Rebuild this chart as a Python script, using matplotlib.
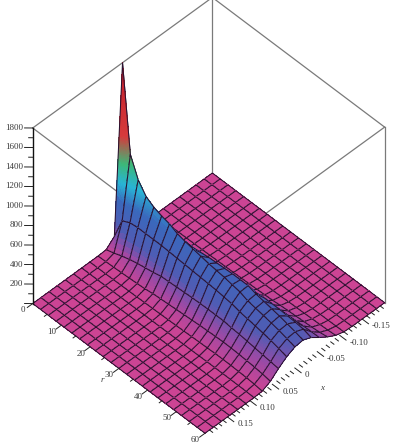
#import libraries
import numpy as np
import matplotlib
matplotlib.use('Agg')
import matplotlib.pyplot as plt
from matplotlib.colors import LinearSegmentedColormap, Normalize
from mpl_toolkits.mplot3d.art3d import Line3DCollection
from mpl_toolkits.mplot3d import proj3d

#grid of the surface
r_vals = [0, 2.727, 5.455, 8.182, 10.909, 13.636, 16.364, 19.091, 21.818, 24.545, 27.273,
          30, 32.727, 35.455, 38.182, 40.909, 43.636, 46.364, 49.091, 51.818, 54.545,
          57.273, 60]
x_vals = [-0.2, -0.1818, -0.1636, -0.1455, -0.1273, -0.1091, -0.0909, -0.0727, -0.0545,
          -0.0364, -0.0182, 0, 0.0182, 0.0364, 0.0545, 0.0727, 0.0909, 0.1091, 0.1273,
          0.1455, 0.1636, 0.1818, 0.2]

#heights, one row per r, columns x = -0.1091 ... 0.0909
#everything outside these columns lies on the floor
ridge = [
    [0, 0, 0, 0, 0, 30, 1800, 80, 5, 0, 0, 0],
    [0, 0, 0, 0, 10, 140, 920, 300, 30, 3, 0, 0],
    [0, 0, 0, 2, 25, 190, 720, 340, 60, 6, 0, 0],
    [0, 0, 0, 5, 40, 220, 610, 350, 85, 10, 1, 0],
    [0, 0, 1, 8, 55, 245, 560, 350, 105, 15, 2, 0],
    [0, 0, 2, 12, 70, 265, 530, 350, 120, 20, 3, 0],
    [0, 0, 3, 16, 85, 285, 510, 350, 135, 26, 4, 0],
    [0, 1, 5, 25, 115, 315, 470, 345, 155, 38, 6, 0],
    [0, 2, 7, 30, 130, 325, 450, 340, 160, 44, 8, 1],
    [0, 2, 9, 36, 145, 335, 435, 335, 165, 50, 10, 1],
    [0, 3, 11, 42, 160, 345, 420, 330, 170, 56, 12, 1],
    [0, 3, 13, 50, 175, 350, 405, 325, 175, 62, 14, 2],
    [1, 4, 16, 58, 190, 355, 395, 320, 178, 68, 17, 2],
    [1, 5, 19, 66, 205, 360, 385, 315, 180, 74, 20, 3],
    [1, 6, 23, 75, 215, 360, 370, 305, 180, 78, 23, 3],
    [1, 7, 27, 84, 225, 360, 355, 295, 180, 82, 25, 4],
    [2, 11, 35, 100, 235, 335, 325, 275, 170, 85, 28, 5],
    [2, 13, 40, 108, 235, 320, 310, 262, 165, 84, 29, 5],
    [2, 15, 45, 115, 235, 305, 295, 250, 155, 80, 28, 5],
    [3, 18, 50, 120, 230, 290, 280, 235, 145, 75, 25, 5],
    [3, 20, 55, 125, 225, 270, 262, 220, 135, 68, 22, 4],
    [4, 24, 62, 128, 215, 250, 240, 200, 125, 60, 16, 3],
    [5, 30, 75, 130, 190, 225, 215, 175, 115, 45, 5, 0],
]

#tick values
z_major = [200, 400, 600, 800, 1000, 1200, 1400, 1600, 1800]
z_minor = [100, 300, 500, 700, 900, 1100, 1300, 1500, 1700]
r_major = [0, 10, 20, 30, 40, 50, 60]
r_minor = [5, 15, 25, 35, 45, 55]
x_major = [-0.15, -0.10, -0.05, 0, 0.05, 0.10, 0.15]
x_minor = [-0.19, -0.18, -0.17, -0.16, -0.14, -0.13, -0.12, -0.11, -0.09, -0.08, -0.07,
           -0.06, -0.04, -0.03, -0.02, -0.01, 0.01, 0.02, 0.03, 0.04, 0.06, 0.07, 0.08,
           0.09, 0.11, 0.12, 0.13, 0.14, 0.16, 0.17, 0.18, 0.19]
x_labels = ['-0.15', '-0.10', '-0.05', '0', '0.05', '0.10', '0.15']

RMAX = 60
XMAX = 0.2
ZMAX = 1800

#colours by height
cmap = LinearSegmentedColormap.from_list('height', [
    (0.0, '#cc4494'), (0.06, '#9a4aa6'), (0.13, '#4f5cb4'), (0.26, '#3a68bc'),
    (0.36, '#28b4d6'), (0.47, '#3cb878'), (0.62, '#d63a3c'), (1.0, '#c41e2a')])
norm = Normalize(0, ZMAX)

fig = plt.figure(figsize=(3.96, 4.43), dpi=100)
ax = fig.add_axes([-0.1627, -0.1023, 1.343, 1.2], projection='3d')
ax.set_proj_type('ortho')
ax.view_init(elev=47.7, azim=-44.5)
ax.set_box_aspect((245, 251, 260), zoom=0.8)
ax.computed_zorder = False
ax.set_axis_off()

#surface cell by cell from the back corner to the front one, so the ridge hides
#the grid behind it; tall cells are split to get the colour gradient
Z = np.zeros((len(r_vals), len(x_vals)))
Z[:, 5:17] = np.array(ridge)
order = 3.0
for i in range(len(r_vals) - 1):
    for j in range(len(x_vals) - 1):
        r0, r1 = r_vals[i], r_vals[i + 1]
        x0, x1 = x_vals[j], x_vals[j + 1]
        z00, z01 = Z[i, j], Z[i, j + 1]
        z10, z11 = Z[i + 1, j], Z[i + 1, j + 1]
        top = max(z00, z01, z10, z11)
        n = 1 if top < 30 else (24 if top > 600 else 6)
        u = np.linspace(0, 1, n + 1)
        rr = r0 + (r1 - r0) * u
        xx = x0 + (x1 - x0) * u
        RR, XX = np.meshgrid(rr, xx, indexing='ij')
        U, V = np.meshgrid(u, u, indexing='ij')
        ZZ = z00 * (1 - U) * (1 - V) + z01 * (1 - U) * V + z10 * U * (1 - V) + z11 * U * V
        ax.plot_surface(RR, XX, ZZ, cmap=cmap, norm=norm, rstride=1, cstride=1,
                        linewidth=0, antialiased=False, zorder=order)
        order += 0.001
        corners = [(r0, x0, z00), (r0, x1, z01), (r1, x1, z11), (r1, x0, z10), (r0, x0, z00)]
        ax.add_collection3d(Line3DCollection([corners], colors='#2a1230', linewidths=0.75,
                                             zorder=order))
        order += 0.001

#box lines behind the surface
GREY = '#7a7a7a'
box_style = dict(color=GREY, lw=0.9, zorder=1)
ax.plot([0, 0], [-XMAX, XMAX], [ZMAX, ZMAX], **box_style)
ax.plot([0, RMAX], [XMAX, XMAX], [ZMAX, ZMAX], **box_style)
ax.plot([0, RMAX], [-XMAX, -XMAX], [ZMAX, ZMAX], **box_style)
ax.plot([RMAX, RMAX], [-XMAX, XMAX], [ZMAX, ZMAX], **box_style)
ax.plot([0, 0], [-XMAX, -XMAX], [0, ZMAX], **box_style)
ax.plot([RMAX, RMAX], [-XMAX, -XMAX], [0, ZMAX], **box_style)

#z axis with ticks to the left
tick_style = dict(color='#222222', lw=0.7, zorder=4)
ax.plot([0, 0], [XMAX, XMAX], [0, ZMAX], color='#111111', lw=1.0, zorder=4)
for z in z_major + [0]:
    ax.plot([0, -1.4], [XMAX, XMAX + 0.0091], [z, z], **tick_style)
for z in z_minor:
    ax.plot([0, -0.7], [XMAX, XMAX + 0.0045], [z, z], **tick_style)

#r axis ticks
for r in r_major:
    ax.plot([r, r], [XMAX, XMAX + 0.012], [0, 0], **tick_style)
for r in r_minor:
    ax.plot([r, r], [XMAX, XMAX + 0.006], [0, 0], **tick_style)

#x axis ticks
for x in x_major:
    ax.plot([RMAX, RMAX + 2.2], [x, x], [0, 0], **tick_style)
for x in x_minor:
    ax.plot([RMAX, RMAX + 1.1], [x, x], [0, 0], **tick_style)

ax.set_xlim(0, RMAX, view_margin=0)
ax.set_ylim(XMAX, -XMAX, view_margin=0)
ax.set_zlim(0, ZMAX, view_margin=0)

#labels, placed in the projection plane so they behave as plain 2d text
font = dict(family='Liberation Serif', size=6.5, color='#3a3a3a', zorder=5000)
proj = ax.get_proj()
def label(r, x, z, s, ha='center', **kw):
    px, py, _ = proj3d.proj_transform(r, x, z, proj)
    ax.text2D(px, py, s, transform=ax.transData, ha=ha, va='center', **font, **kw)

for z in z_major:
    label(-1.6, XMAX + 0.0105, z, str(z), ha='right')
for r in r_major:
    label(r, XMAX + 0.021, 0, str(r))
for x, lab in zip(x_major, x_labels):
    label(RMAX + 3.4, x, 0, lab, ha='left')
label(30, XMAX + 0.036, 0, 'r', style='italic')
label(RMAX + 9.5, 0, 0, 'x', style='italic')

plt.savefig('out.png', dpi=100)
